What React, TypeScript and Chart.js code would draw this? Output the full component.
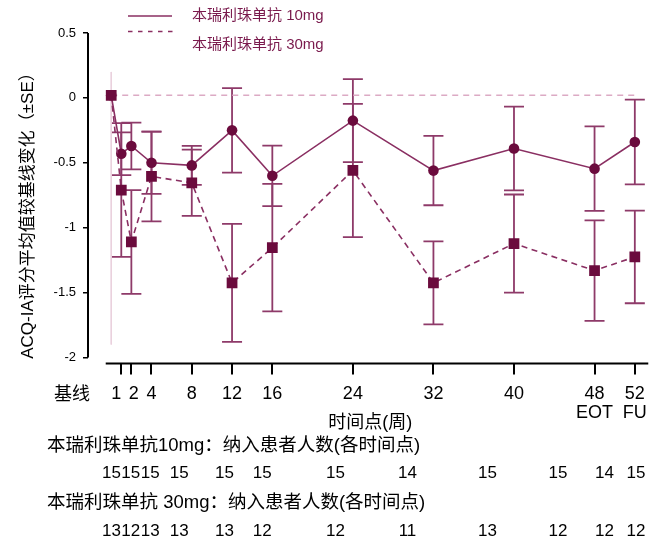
import { useEffect, useRef } from "react";
import { Chart, registerables } from "chart.js";

Chart.register(...registerables);

// ---- data ----
const weeks = [0, 1, 2, 4, 8, 12, 16, 24, 32, 40, 48, 52];
const tickWeeks = [1, 2, 4, 8, 12, 16, 24, 32, 40, 48, 52];
const tickLabels: (string | string[])[] = ["1", "2", "4", "8", "12", "16", "24", "32", "40", ["48", "EOT"], ["52", "FU"]];
const yTickValues = [0.5, 0, -0.5, -1, -1.5, -2];

const mean10 = [0.02, -0.43, -0.37, -0.5, -0.52, -0.25, -0.6, -0.175, -0.56, -0.39, -0.545, -0.34];
const se10 = [0, 0.165, 0.18, 0.24, 0.15, 0.325, 0.233, 0.32, 0.267, 0.323, 0.325, 0.326];
const mean30 = [0.02, -0.71, -1.11, -0.605, -0.654, -1.425, -1.154, -0.559, -1.425, -1.122, -1.33, -1.225];
const se30 = [0, 0.515, 0.4, 0.346, 0.255, 0.455, 0.491, 0.513, 0.32, 0.378, 0.387, 0.357];

const n10 = [15, 15, 15, 15, 15, 15, 15, 14, 15, 15, 14, 15];
const n30 = [13, 12, 13, 13, 13, 12, 12, 11, 13, 12, 12, 12];

const refLevel = 0.02;
const baselineGuide = [0.2, -1.9];

const label10 = "本瑞利珠单抗 10mg";
const label30 = "本瑞利珠单抗 30mg";
const row10Title = "本瑞利珠单抗10mg：纳入患者人数(各时间点)";
const row30Title = "本瑞利珠单抗 30mg：纳入患者人数(各时间点)";
const xTitle = "时间点(周)";
const yTitle = "ACQ-IA评分平均值较基线变化（±SE）";
const baselineLabel = "基线";

// ---- layout (pixels) ----
const countLabelX = [111.4, 130.8, 150.3, 179.2, 224.5, 262.2, 335.5, 407.5, 487.5, 558, 604.5, 636];

const FONT = "'Liberation Sans', 'Noto Sans CJK SC', Arial, sans-serif";
const LINE = "#8a2f62";
const MARKER = "#6b0b3d";
const ERR = "#8e3a69";
const REF = "#dcaac4";
const LEGEND_TEXT = "#7a1a4d";

const errorBarPlugin = {
  id: "errorBars",
  beforeDatasetsDraw(chart: any) {
    const { ctx } = chart;
    const x = chart.scales.x;
    const y = chart.scales.y;
    chart.data.datasets.forEach((ds: any) => {
      const se = ds.se as number[] | undefined;
      if (!se) return;
      ctx.save();
      ctx.strokeStyle = ERR;
      ctx.lineWidth = 1.8;
      ctx.setLineDash([]);
      ds.data.forEach((p: any, j: number) => {
        const s = se[j];
        if (!s) return;
        const px = x.getPixelForValue(p.x);
        const top = y.getPixelForValue(p.y + s);
        const bot = y.getPixelForValue(p.y - s);
        ctx.beginPath();
        ctx.moveTo(px, top);
        ctx.lineTo(px, bot);
        ctx.moveTo(px - 10, top);
        ctx.lineTo(px + 10, top);
        ctx.moveTo(px - 10, bot);
        ctx.lineTo(px + 10, bot);
        ctx.stroke();
      });
      ctx.restore();
    });
  },
};

const decorPlugin = {
  id: "decor",
  afterDraw(chart: any) {
    const { ctx, chartArea } = chart;
    const x = chart.scales.x;
    const y = chart.scales.y;
    ctx.save();
    // y axis line
    ctx.strokeStyle = "#000";
    ctx.lineWidth = 2;
    ctx.beginPath();
    ctx.moveTo(chartArea.left, y.getPixelForValue(yTickValues[0]));
    ctx.lineTo(chartArea.left, y.getPixelForValue(yTickValues[yTickValues.length - 1]));
    ctx.stroke();
    // x axis line
    ctx.beginPath();
    ctx.moveTo(x.getPixelForValue(0) - 5.5, chartArea.bottom);
    ctx.lineTo(chartArea.right, chartArea.bottom);
    ctx.stroke();

    ctx.fillStyle = "#000";
    ctx.textBaseline = "middle";
    // baseline label
    ctx.font = `18px ${FONT}`;
    ctx.textAlign = "center";
    ctx.fillText(baselineLabel, chartArea.left - 16, 395);
    // x title
    ctx.fillText(xTitle, (chartArea.left + chartArea.right) / 2 + 2, 423);

    // y title
    ctx.save();
    ctx.translate(28, 211.5);
    ctx.rotate(-Math.PI / 2);
    ctx.font = `17px ${FONT}`;
    ctx.textAlign = "center";
    ctx.fillText(yTitle, 0, 0);
    ctx.restore();

    // legend
    const ds10 = chart.data.datasets[1];
    const ds30 = chart.data.datasets[0];
    ctx.lineWidth = 1.5;
    ctx.strokeStyle = ds10.borderColor;
    ctx.setLineDash([]);
    ctx.beginPath();
    ctx.moveTo(128, 16);
    ctx.lineTo(172, 16);
    ctx.stroke();
    ctx.strokeStyle = ds30.borderColor;
    ctx.setLineDash([4.5, 5.5]);
    ctx.beginPath();
    ctx.moveTo(128, 31.5);
    ctx.lineTo(173, 31.5);
    ctx.stroke();
    ctx.setLineDash([]);
    ctx.font = `15px ${FONT}`;
    ctx.textAlign = "left";
    ctx.fillStyle = LEGEND_TEXT;
    ctx.fillText(ds10.label, 192, 16);
    ctx.fillText(ds30.label, 192, 45);

    // patient count table
    ctx.fillStyle = "#000";
    ctx.font = `18.5px ${FONT}`;
    ctx.textAlign = "left";
    ctx.fillText(row10Title, 47, 446);
    ctx.fillText(row30Title, 47, 503);
    ctx.font = `17px ${FONT}`;
    ctx.textAlign = "center";
    n10.forEach((n, i) => ctx.fillText(String(n), countLabelX[i], 473));
    n30.forEach((n, i) => ctx.fillText(String(n), countLabelX[i], 531));
    ctx.restore();
  },
};

export default function App() {
  const ref = useRef<HTMLCanvasElement>(null);
  useEffect(() => {
    document.body.style.margin = "0";
    const canvas = ref.current;
    if (!canvas) return;
    Chart.defaults.font.family = FONT;
    const chart = new Chart(canvas, {
      type: "line",
      data: {
        datasets: [
          {
            label: label30,
            data: weeks.map((w, i) => ({ x: w, y: mean30[i] })),
            se: se30,
            borderColor: LINE,
            borderWidth: 1.6,
            borderDash: [6, 4.5],
            pointStyle: "rect",
            pointRadius: 7.6,
            pointBackgroundColor: MARKER,
            pointBorderWidth: 0,
            order: 0,
          } as any,
          {
            label: label10,
            data: weeks.map((w, i) => ({ x: w, y: mean10[i] })),
            se: se10,
            borderColor: LINE,
            borderWidth: 1.6,
            pointStyle: "circle",
            pointRadius: 5.3,
            pointBackgroundColor: MARKER,
            pointBorderWidth: 0,
            order: 1,
          } as any,
          {
            label: "ref",
            data: [
              { x: weeks[0], y: refLevel },
              { x: weeks[weeks.length - 1], y: refLevel },
            ],
            borderColor: REF,
            borderWidth: 1.5,
            borderDash: [6, 5],
            pointRadius: 0,
            order: 5,
          },
          {
            label: "guide",
            data: baselineGuide.map((v) => ({ x: weeks[0], y: v })),
            borderColor: "#ead0dd",
            borderWidth: 1,
            pointRadius: 0,
            order: 6,
          },
        ],
      },
      options: {
        animation: false,
        responsive: false,
        devicePixelRatio: 1,
        layout: { padding: { top: 33, left: 0, right: 2, bottom: 117.5 } },
        plugins: { legend: { display: false }, tooltip: { enabled: false } },
        elements: { line: { tension: 0 } },
        scales: {
          x: {
            type: "linear",
            min: -2.306,
            max: 53.336,
            afterFit: (s: any) => {
              s.height = 60;
            },
            afterBuildTicks: (s: any) => {
              s.ticks = tickWeeks.map((v) => ({ value: v }));
            },
            border: { display: false },
            grid: { drawOnChartArea: false, drawTicks: true, tickLength: 11, color: "#000", lineWidth: 2 },
            ticks: {
              autoSkip: false,
              maxRotation: 0,
              padding: 10,
              color: "#000",
              font: { size: 18, lineHeight: 1.05 },
              callback: (v: any) => {
                const i = tickWeeks.indexOf(Number(v));
                if (i < 0) return "";
                const lab = tickLabels[i];
                // nudge the two crowded first labels apart
                if (i === 0) return lab + "  ";
                if (i === 1) return " " + lab;
                return lab;
              },
            },
          },
          y: {
            type: "linear",
            min: -2.046,
            max: 0.5,
            afterFit: (s: any) => {
              s.width = 88;
            },
            afterBuildTicks: (s: any) => {
              s.ticks = yTickValues.map((v) => ({ value: v }));
            },
            border: { display: false },
            grid: { drawOnChartArea: false, drawTicks: true, tickLength: 5, color: "#000", lineWidth: 1.5 },
            ticks: {
              padding: 7,
              color: "#000",
              font: { size: 13 },
              callback: (v: any) => String(v),
            },
          },
        },
      } as any,
      plugins: [errorBarPlugin, decorPlugin],
    });
    return () => chart.destroy();
  }, []);
  return <canvas ref={ref} width={657} height={541} style={{ display: "block" }} />;
}
